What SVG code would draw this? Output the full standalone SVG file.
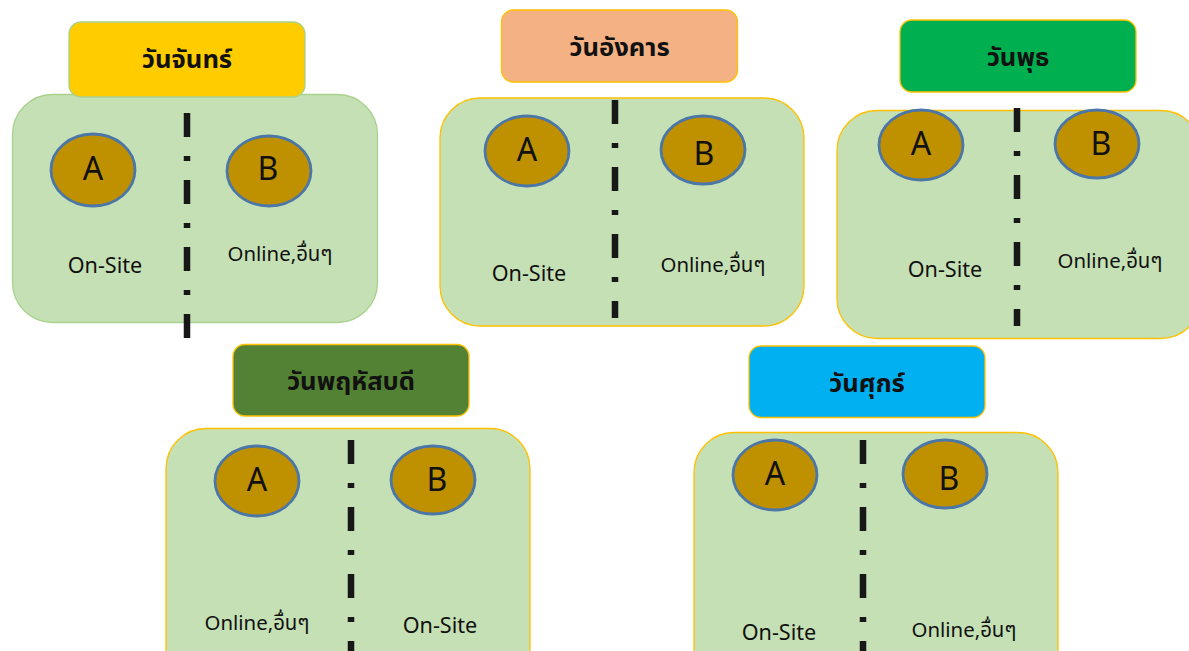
<svg xmlns="http://www.w3.org/2000/svg" width="1189" height="651" viewBox="0 0 1189 651">
<style>
text{font-family:"Noto Sans","Noto Sans Thai","DejaVu Sans","Liberation Sans",sans-serif;fill:#111;text-anchor:middle}
.panel{fill:#c5e0b4;stroke:#ffc000;stroke-width:1.3}
.head{stroke:#ffc000;stroke-width:1.3}
.oval{fill:#bf9000;stroke:#4a76a8;stroke-width:2.8}
.letter{font-size:32px}
.title{font-size:25.600px;font-weight:700}
.lab{font-size:21.600px}
.lab2{font-size:20.400px}
.div{stroke:#171717;stroke-width:6.500;fill:none;stroke-dasharray:24 19 5 19}
</style>
<rect width="1189" height="651" fill="#fff"/>
<g id="panels-bg">
<rect id="panel-mon" class="panel" x="12.500" y="94.500" width="365" height="228" rx="40" style="stroke:#a9d18e"/>
<rect id="panel-tue" class="panel" x="440" y="98" width="364" height="228" rx="40"/>
<rect id="panel-wed" class="panel" x="837" y="110.500" width="364" height="228" rx="40"/>
<rect id="panel-thu" class="panel" x="166" y="428.500" width="364" height="260" rx="40"/>
<rect id="panel-fri" class="panel" x="694" y="432.500" width="364" height="260" rx="40"/>
</g>
<g id="connectors">
<path class="div" d="M187 113V338"/>
<path class="div" d="M615 100V318"/>
<path class="div" d="M1017 108V326"/>
<path class="div" d="M351 440V651"/>
<path class="div" d="M863 440V651"/>
</g>
<g id="mon">
<rect class="head" x="69" y="22" width="236" height="75" rx="12" fill="#ffcc00" style="stroke:#a9d18e"/>
<text class="title" x="187" y="68">วันจันทร์</text>
<ellipse class="oval" cx="93" cy="170" rx="42" ry="36"/><text class="letter" x="93" y="180">A</text>
<ellipse class="oval" cx="269" cy="171" rx="42" ry="35"/><text class="letter" x="268" y="180">B</text>
<text class="lab" x="105" y="273">On-Site</text><text class="lab2" x="280" y="261">Online,อื่นๆ</text>
</g>
<g id="tue">
<rect class="head" x="501.500" y="10" width="236" height="72" rx="12" fill="#f4b183"/>
<text class="title" x="619.500" y="56">วันอังคาร</text>
<ellipse class="oval" cx="527" cy="151" rx="42" ry="35"/><text class="letter" x="527" y="161">A</text>
<ellipse class="oval" cx="703" cy="150" rx="42" ry="34"/><text class="letter" x="704" y="165">B</text>
<text class="lab" x="529" y="281">On-Site</text><text class="lab2" x="713" y="272">Online,อื่นๆ</text>
</g>
<g id="wed">
<rect class="head" x="900" y="20" width="236" height="72" rx="12" fill="#00b050"/>
<text class="title" x="1018" y="66">วันพุธ</text>
<ellipse class="oval" cx="921" cy="145" rx="42" ry="35"/><text class="letter" x="921" y="155">A</text>
<ellipse class="oval" cx="1097" cy="144" rx="42" ry="34"/><text class="letter" x="1101" y="155">B</text>
<text class="lab" x="945" y="277">On-Site</text><text class="lab2" x="1110" y="268">Online,อื่นๆ</text>
</g>
<g id="thu">
<rect class="head" x="233" y="344.500" width="236" height="71.500" rx="12" fill="#548235"/>
<text class="title" x="351" y="390">วันพฤหัสบดี</text>
<ellipse class="oval" cx="257" cy="481" rx="42" ry="35"/><text class="letter" x="257" y="491">A</text>
<ellipse class="oval" cx="433" cy="480" rx="42" ry="34"/><text class="letter" x="437" y="491">B</text>
<text class="lab2" x="257" y="630">Online,อื่นๆ</text><text class="lab" x="440" y="633">On-Site</text>
</g>
<g id="fri">
<rect class="head" x="749" y="346" width="236" height="71.500" rx="12" fill="#00b0f0"/>
<text class="title" x="867" y="392">วันศุกร์</text>
<ellipse class="oval" cx="775" cy="475" rx="42" ry="35"/><text class="letter" x="775" y="485">A</text>
<ellipse class="oval" cx="945" cy="474" rx="42" ry="34"/><text class="letter" x="949" y="490">B</text>
<text class="lab" x="779" y="640">On-Site</text><text class="lab2" x="964" y="637">Online,อื่นๆ</text>
</g>
</svg>
